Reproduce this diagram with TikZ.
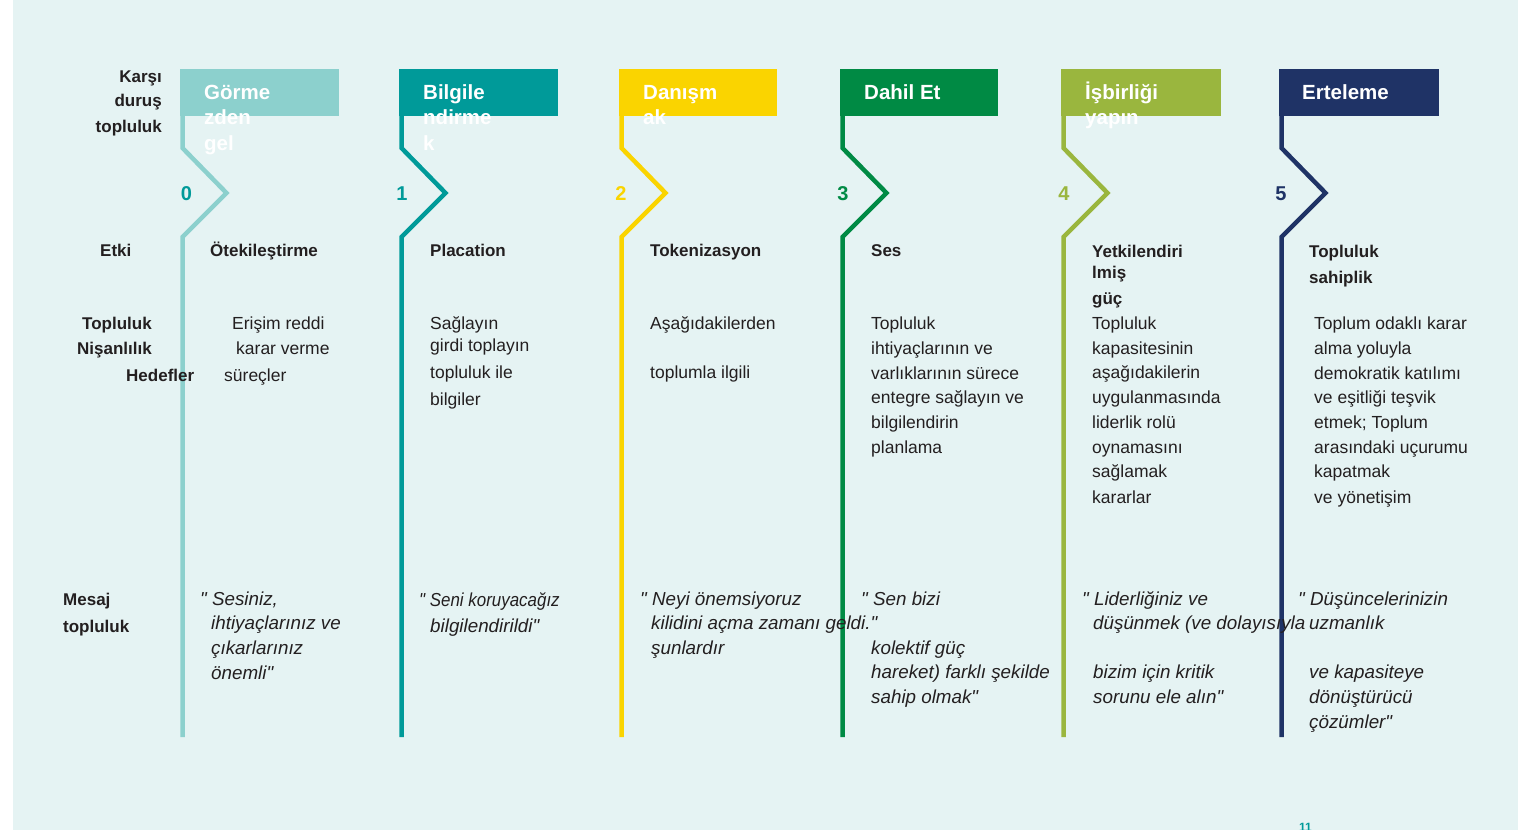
\documentclass[tikz,border=0pt]{standalone}
\usepackage{fontspec}
\setmainfont{Liberation Sans}[Ligatures=TeXOff]
\definecolor{bg}{HTML}{E5F3F3}
\definecolor{c0}{HTML}{8CD0CD}
\definecolor{c1}{HTML}{009A99}
\definecolor{c2}{HTML}{FAD400}
\definecolor{c3}{HTML}{008A44}
\definecolor{c4}{HTML}{9AB63E}
\definecolor{c5}{HTML}{1F3366}
\definecolor{txt}{HTML}{231F20}
\newcommand\dq{\char34\relax}
\begin{document}
\begin{tikzpicture}[x=1pt,y=-1pt,
  body/.style={anchor=base west, inner sep=0pt, font=\fontsize{17.5}{20}\selectfont, text=txt},
  bodyb/.style={body, font=\fontsize{17}{20}\selectfont\bfseries},
  bodyr/.style={bodyb, anchor=base east},
  quote/.style={body, font=\fontsize{18.8}{22}\selectfont\itshape},
  head/.style={anchor=base west, inner sep=0pt, font=\fontsize{20.5}{24}\selectfont\bfseries, text=white},
  num/.style={anchor=base, inner sep=0pt, font=\fontsize{20}{24}\selectfont\bfseries},
  stem/.style={line width=4.5pt, line join=miter}]
\useasboundingbox (0,0) rectangle (1540,830);
\fill[bg] (13,0) rectangle (1518,830);

% header bars and stems
\foreach \L/\R/\C in {180/339/c0, 399/558/c1, 619/777/c2, 840/998/c3, 1061/1221/c4, 1279/1439/c5}{
  \fill[\C] (\L,69) rectangle (\R,116);
  \draw[stem,\C] (\L+2.5,69) -- (\L+2.5,148) -- (\L+46.5,193) -- (\L+2.5,237) -- (\L+2.5,737);
}

% left labels
\node[bodyr] (lk1) at (162,82) {Karşı};
\node[bodyr] (lk2) at (162,106) {duruş};
\node[bodyr] (lk3) at (162,132) {topluluk};
\node[bodyb] (le) at (100,256) {Etki};
\node[bodyb] (lt1) at (82,329) {Topluluk};
\node[bodyb] (lt2) at (77,354) {Nişanlılık};
\node[bodyb] (lt3) at (126,381) {Hedefler};
\node[bodyb] (lm1) at (63,605) {Mesaj};
\node[bodyb] (lm2) at (63,632) {topluluk};

% column 0
\node[head] (h0a) at (204,99) {Görme};
\node[head] (h0b) at (204,124) {zden};
\node[head] (h0c) at (204,150) {gel};
\node[num,text=c1] (n0) at (186.5,200) {0};
\node[bodyb] (i0) at (210,256) {Ötekileştirme};
\node[body] (g0a) at (232,329) {Erişim reddi};
\node[body] (g0b) at (236,354) {karar verme};
\node[body] (g0c) at (224,381) {süreçler};
\node[quote] (m0a) at (200,605) {\dq\ Sesiniz,};
\node[quote] (m0b) at (211,629) {ihtiyaçlarınız ve};
\node[quote] (m0c) at (211,654) {çıkarlarınız};
\node[quote] (m0d) at (211,679) {önemli\dq};

% column 1
\node[head] (h1a) at (423,99) {Bilgile};
\node[head] (h1b) at (423,124) {ndirme};
\node[head] (h1c) at (423,150) {k};
\node[num,text=c1] (n1) at (402,200) {1};
\node[bodyb] (i1) at (430,256) {Placation};
\node[body] (g1a) at (430,329) {Sağlayın};
\node[body] (g1b) at (430,351) {girdi toplayın};
\node[body] (g1c) at (430,378) {topluluk ile};
\node[body] (g1d) at (430,405) {bilgiler};
\node[quote] (m1a) at (419,606) {\scalebox{0.9}[1]{\dq\ Seni koruyacağız}};
\node[quote] (m1b) at (430,632) {bilgilendirildi\dq};

% column 2
\node[head] (h2a) at (643,99) {Danışm};
\node[head] (h2b) at (643,124) {ak};
\node[num,text=c2] (n2) at (621,200) {2};
\node[bodyb] (i2) at (650,256) {Tokenizasyon};
\node[body] (g2a) at (650,329) {Aşağıdakilerden};
\node[body] (g2b) at (650,378) {toplumla ilgili};
\node[quote] (m2a) at (640,605) {\dq\ Neyi önemsiyoruz};
\node[quote] (m2b) at (651,629) {kilidini açma zamanı geldi.\dq};
\node[quote] (m2c) at (651,654) {şunlardır};

% column 3
\node[head] (h3a) at (864,99) {Dahil Et};
\node[num,text=c3] (n3) at (843,200) {3};
\node[bodyb] (i3) at (871,256) {Ses};
\node[body] (g3a) at (871,329) {Topluluk};
\node[body] (g3b) at (871,354) {ihtiyaçlarının ve};
\node[body] (g3c) at (871,379) {varlıklarının sürece};
\node[body] (g3d) at (871,403) {entegre sağlayın ve};
\node[body] (g3e) at (871,428) {bilgilendirin};
\node[body] (g3f) at (871,453) {planlama};
\node[quote] (m3a) at (861,605) {\dq\ Sen bizi};
\node[quote] (m3b) at (871,654) {kolektif güç};
\node[quote] (m3c) at (871,678) {hareket) farklı şekilde};
\node[quote] (m3d) at (871,703) {sahip olmak\dq};

% column 4
\node[head] (h4a) at (1085,99) {İşbirliği};
\node[head] (h4b) at (1085,124) {yapın};
\node[num,text=c4] (n4) at (1064,200) {4};
\node[bodyb] (i4a) at (1092,257) {Yetkilendiri};
\node[bodyb] (i4b) at (1092,278) {lmiş};
\node[bodyb] (i4c) at (1092,304) {güç};
\node[body] (g4a) at (1092,329) {Topluluk};
\node[body] (g4b) at (1092,354) {kapasitesinin};
\node[body] (g4c) at (1092,378) {aşağıdakilerin};
\node[body] (g4d) at (1092,403) {uygulanmasında};
\node[body] (g4e) at (1092,428) {liderlik rolü};
\node[body] (g4f) at (1092,453) {oynamasını};
\node[body] (g4g) at (1092,477) {sağlamak};
\node[body] (g4h) at (1092,503) {kararlar};
\node[quote] (m4a) at (1082,605) {\dq\ Liderliğiniz ve};
\node[quote] (m4b) at (1093,629) {düşünmek (ve dolayısıyla};
\node[quote] (m4c) at (1093,678) {bizim için kritik};
\node[quote] (m4d) at (1093,703) {sorunu ele alın\dq};

% column 5
\node[head] (h5a) at (1302,99) {Erteleme};
\node[num,text=c5] (n5) at (1281,200) {5};
\node[bodyb] (i5a) at (1309,257) {Topluluk};
\node[bodyb] (i5b) at (1309,283) {sahiplik};
\node[body] (g5a) at (1314,329) {Toplum odaklı karar};
\node[body] (g5b) at (1314,354) {alma yoluyla};
\node[body] (g5c) at (1314,379) {demokratik katılımı};
\node[body] (g5d) at (1314,403) {ve eşitliği teşvik};
\node[body] (g5e) at (1314,428) {etmek; Toplum};
\node[body] (g5f) at (1314,453) {arasındaki uçurumu};
\node[body] (g5g) at (1314,477) {kapatmak};
\node[body] (g5h) at (1314,503) {ve yönetişim};
\node[quote] (m5a) at (1298,605) {\dq\ Düşüncelerinizin};
\node[quote] (m5b) at (1309,629) {uzmanlık};
\node[quote] (m5c) at (1309,678) {ve kapasiteye};
\node[quote] (m5d) at (1309,703) {dönüştürücü};
\node[quote] (m5e) at (1309,728) {çözümler\dq};

% page number
\node[anchor=base west, inner sep=0pt, font=\fontsize{12}{14}\selectfont\bfseries, text=c1] (pg) at (1299,831) {11};
\end{tikzpicture}
\end{document}
